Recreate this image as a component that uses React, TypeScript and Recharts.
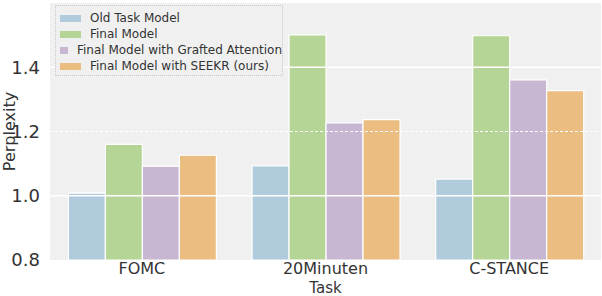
import { BarChart, Bar, XAxis, YAxis, CartesianGrid, ReferenceLine } from "recharts";

const tasks = ["FOMC", "20Minuten", "C-STANCE"];
const oldTaskModel = [1.008, 1.093, 1.052];
const finalModel = [1.16, 1.501, 1.498];
const graftedAttention = [1.092, 1.227, 1.361];
const seekr = [1.126, 1.237, 1.327];
const yTicks = [0.8, 1.0, 1.2, 1.4];

const series = [
  { key: "old", name: "Old Task Model", color: "#afcbdc" },
  { key: "final", name: "Final Model", color: "#b4d595" },
  { key: "grafted", name: "Final Model with Grafted Attention", color: "#c8b7d3" },
  { key: "seekr", name: "Final Model with SEEKR (ours)", color: "#ebbd81" }
];

const data = tasks.map((task, i) => ({
  task,
  old: oldTaskModel[i],
  final: finalModel[i],
  grafted: graftedAttention[i],
  seekr: seekr[i]
}));

const FONT = "'DejaVu Sans', sans-serif";
const TEXT = "#333333";

// legend sits on top of the plot, like matplotlib's upper-left box
function LegendBox() {
  return (
    <div
      style={{
        position: "absolute",
        left: 55,
        top: 5,
        width: 228,
        height: 71,
        border: "1px dotted #c8c8c8",
        background: "#f0f0f0",
        fontFamily: FONT,
        fontSize: 12,
        color: TEXT,
        boxSizing: "border-box",
        paddingTop: 4
      }}
    >
      {series.map((s) => (
        <div key={s.key} style={{ display: "flex", alignItems: "center", height: 16 }}>
          <span
            style={{
              display: "inline-block",
              width: 21,
              height: 7,
              background: s.color,
              marginLeft: 4,
              marginRight: 9
            }}
          />
          <span style={{ whiteSpace: "nowrap" }}>{s.name}</span>
        </div>
      ))}
    </div>
  );
}

export default function App() {
  return (
    <div style={{ position: "absolute", left: 0, top: 0, width: 602, height: 296, background: "#fff" }}>
      <BarChart
        width={602}
        height={296}
        data={data}
        margin={{ top: 3, right: 1, bottom: 0, left: 0 }}
        barCategoryGap="10%"
        barGap={0}
      >
        <CartesianGrid fill="#f0f0f0" horizontal={false} vertical={false} />
        <ReferenceLine y={1.0} stroke="#ffffff" strokeWidth={1.5} />
        <ReferenceLine y={1.2} stroke="#ffffff" strokeWidth={1} strokeDasharray="3 2" />
        <ReferenceLine y={1.4} stroke="#ffffff" strokeWidth={1.5} />
        <ReferenceLine y={1.6} stroke="#ffffff" strokeWidth={1} strokeDasharray="1 2" />
        <XAxis
          dataKey="task"
          axisLine={false}
          tickLine={false}
          height={36}
          tickMargin={0}
          tick={{ fontSize: 16, fill: TEXT, fontFamily: FONT, dy: -3 }}
          label={{ value: "Task", position: "insideBottom", offset: 3, fontSize: 15, fill: TEXT, fontFamily: FONT }}
        />
        <YAxis
          width={50}
          domain={[0.8, 1.6]}
          ticks={yTicks}
          allowDataOverflow
          axisLine={false}
          tickLine={false}
          tickMargin={4}
          tickFormatter={(v: number) => v.toFixed(1)}
          tick={{ fontSize: 18, fill: TEXT, fontFamily: FONT }}
          label={{ value: "Perplexity", angle: -90, position: "insideLeft", offset: 0, dx: 9, fontSize: 16, fill: TEXT, fontFamily: FONT, style: { textAnchor: "middle" } }}
        />
        {series.map((s) => (
          <Bar
            key={s.key}
            dataKey={s.key}
            name={s.name}
            fill={s.color}
            stroke="#ffffff"
            strokeWidth={1.2}
            isAnimationActive={false}
          />
        ))}
      </BarChart>
      <LegendBox />
    </div>
  );
}
